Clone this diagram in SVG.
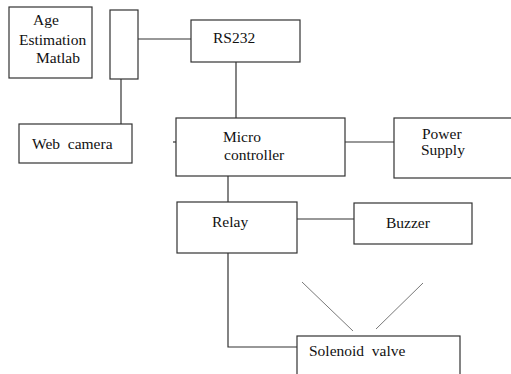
<svg xmlns="http://www.w3.org/2000/svg" width="511" height="374" viewBox="0 0 511 374">
<style>
.box{fill:#fff;stroke:#333;stroke-width:1.2}
.ln{fill:none;stroke:#333;stroke-width:1.2}
.thin{fill:none;stroke:#555;stroke-width:0.8}
text{font-family:"Liberation Serif","DejaVu Serif","Times New Roman",serif;font-size:15.5px;fill:#111;white-space:pre}
</style>
<rect width="511" height="374" fill="#fff"/>
<g id="connectors">
<line class="ln" x1="138" y1="39" x2="191" y2="39"/>
<line class="ln" x1="121" y1="79" x2="121" y2="124"/>
<line class="ln" x1="236" y1="62" x2="236" y2="118"/>
<line class="ln" x1="173" y1="142" x2="176" y2="142"/>
<line class="ln" x1="345" y1="142" x2="394" y2="142"/>
<line class="ln" x1="228" y1="176" x2="228" y2="202"/>
<line class="ln" x1="297" y1="219" x2="354" y2="219"/>
<polyline class="ln" points="228,253 228,347 298,347"/>
<line class="thin" x1="302" y1="282" x2="353" y2="331"/>
<line class="thin" x1="423" y1="283" x2="376" y2="329"/>
</g>
<g id="age"><rect class="box" x="9" y="7" width="83" height="71"/>
<text x="33" y="25">Age</text><text x="19" y="45">Estimation</text><text x="36" y="63">Matlab</text></g>
<g id="port"><rect class="box" x="110" y="10" width="28" height="69"/></g>
<g id="rs232"><rect class="box" x="191" y="20" width="109" height="42"/><text x="213" y="43">RS232</text></g>
<g id="webcam"><rect class="box" x="19" y="124" width="113" height="39"/><text x="32" y="149" xml:space="preserve">Web  camera</text></g>
<g id="micro"><rect class="box" x="176" y="118" width="169" height="58"/><text x="223" y="142">Micro</text><text x="224" y="160">controller</text></g>
<g id="power"><rect class="box" x="394" y="118" width="125" height="60"/><text x="422" y="139">Power</text><text x="421" y="155">Supply</text></g>
<g id="relay"><rect class="box" x="177" y="202" width="120" height="51"/><text x="212" y="227">Relay</text></g>
<g id="buzzer"><rect class="box" x="354" y="203" width="118" height="41"/><text x="386" y="228">Buzzer</text></g>
<g id="solenoid"><rect class="box" x="297" y="336" width="163" height="50"/><text x="309" y="356" xml:space="preserve">Solenoid  valve</text></g>
</svg>
